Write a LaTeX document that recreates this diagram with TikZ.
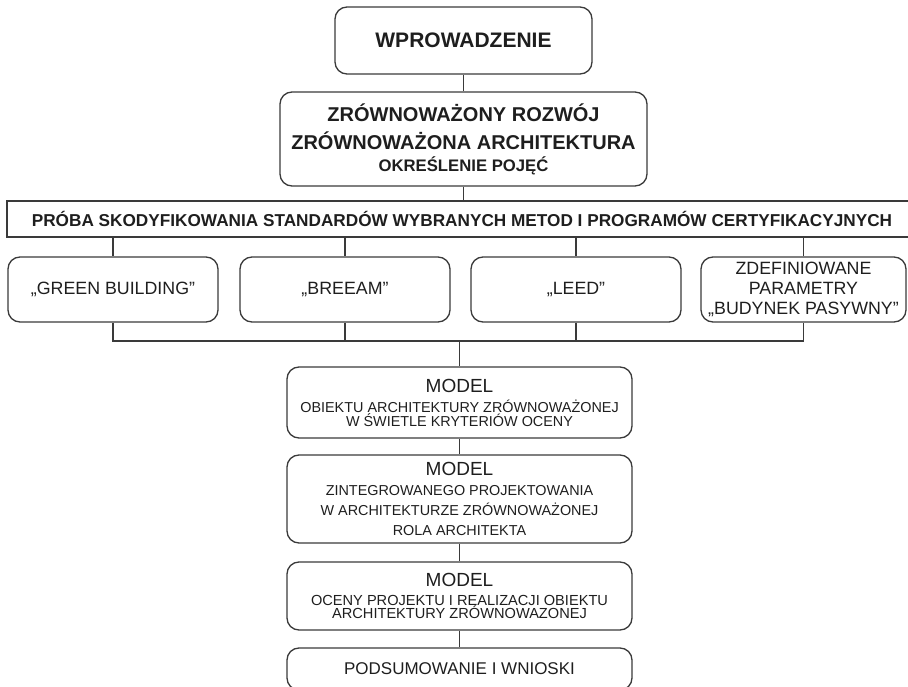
\documentclass[tikz,border=0pt]{standalone}
\usepackage{fontspec}
\setmainfont{Liberation Sans}
\usepackage{xcolor}
\usetikzlibrary{calc, positioning}

\definecolor{kreska}{HTML}{3A3A3A}
\definecolor{tekst}{HTML}{1E1E1E}
\newcommand{\rozmiar}[2]{\fontsize{#1}{#2}\selectfont}

\begin{document}
\begin{tikzpicture}[x=1pt, y=-1pt,
    blok/.style={draw=kreska, line width=1.3pt, rounded corners=12pt, align=center,
        inner sep=0pt, text=tekst},
    pasek/.style={draw=kreska, line width=1.3pt, align=center, inner sep=0pt, text=tekst},
    linia/.style={draw=kreska, line width=1.3pt}]
    \useasboundingbox (0,0) rectangle (908,687);

    % Wprowadzenie i pojęcia
    \node[blok, minimum width=257pt, minimum height=67pt, font=\bfseries\rozmiar{21}{24}]
        (wstep) at (463.5,40.5) {WPROWADZENIE};
    \node[blok, minimum width=367pt, minimum height=94pt, font=\bfseries\rozmiar{20}{28}]
        (rozwoj) at (463.5,139) {ZRÓWNOWAŻONY ROZWÓJ\\ ZRÓWNOWAŻONA ARCHITEKTURA\\[-6pt]
        {\rozmiar{16.7}{22}OKREŚLENIE POJĘĆ}};

    % Pasek z metodami
    \node[pasek, minimum width=910pt, minimum height=36pt, font=\bfseries\rozmiar{17.2}{20}]
        (proba) at (462,219) {PRÓBA SKODYFIKOWANIA STANDARDÓW WYBRANYCH METOD I PROGRAMÓW CERTYFIKACYJNYCH};

    % Metody certyfikacji
    \node[blok, minimum width=210pt, minimum height=65pt, font=\rozmiar{17.8}{20}]
        (g1) at (113,289.5) {„GREEN BUILDING”};
    \node[blok, minimum width=210pt, minimum height=65pt, font=\rozmiar{17.8}{20}]
        (g2) at (345,289.5) {„BREEAM”};
    \node[blok, minimum width=210pt, minimum height=65pt, font=\rozmiar{17.8}{20}]
        (g3) at (576,289.5) {„LEED”};
    \node[blok, minimum width=205pt, minimum height=65pt, font=\rozmiar{17.8}{20}]
        (g4) at (803.5,289.5) {ZDEFINIOWANE\\ PARAMETRY\\ „BUDYNEK PASYWNY”};

    % Modele
    \node[blok, minimum width=345pt, minimum height=71pt, font=\rozmiar{14.4}{14}]
        (m1) at (459.5,402.5) {{\rozmiar{19}{20}MODEL}\\[6pt] OBIEKTU ARCHITEKTURY ZRÓWNOWAŻONEJ\\
        W ŚWIETLE KRYTERIÓW OCENY};
    \node[blok, minimum width=345pt, minimum height=88pt, font=\rozmiar{14.4}{20}]
        (m2) at (459.5,499) {{\rozmiar{19}{20}MODEL}\\ ZINTEGROWANEGO PROJEKTOWANIA\\
        W ARCHITEKTURZE ZRÓWNOWAŻONEJ\\ ROLA ARCHITEKTA};
    \node[blok, minimum width=345pt, minimum height=68pt, font=\rozmiar{14.6}{13.5}]
        (m3) at (459.5,596) {{\rozmiar{19}{20}MODEL}\\[5.5pt] OCENY PROJEKTU I REALIZACJI OBIEKTU\\
        ARCHITEKTURY ZRÓWNOWAZONEJ};
    \node[blok, minimum width=345pt, minimum height=42pt, font=\rozmiar{17}{20}]
        (wnioski) at (459.5,669) {PODSUMOWANIE I WNIOSKI};

    % Połączenia
    \draw[linia] (wstep) -- (rozwoj);
    \draw[linia] (rozwoj.south) -- (rozwoj.south |- proba.north);
    \foreach \g in {g1,g2,g3,g4}
        \draw[linia] (\g.north |- proba.south) -- (\g.north);
    \coordinate (laczenie) at (459.5,341);
    \draw[linia] (g1.south) |- (g4.south |- laczenie) -- (g4.south);
    \foreach \g in {g2,g3}
        \draw[linia] (\g.south) -- (\g.south |- laczenie);
    \draw[linia] (laczenie) -- (m1);
    \draw[linia] (m1) -- (m2);
    \draw[linia] (m2) -- (m3);
    \draw[linia] (m3) -- (wnioski);
\end{tikzpicture}
\end{document}
